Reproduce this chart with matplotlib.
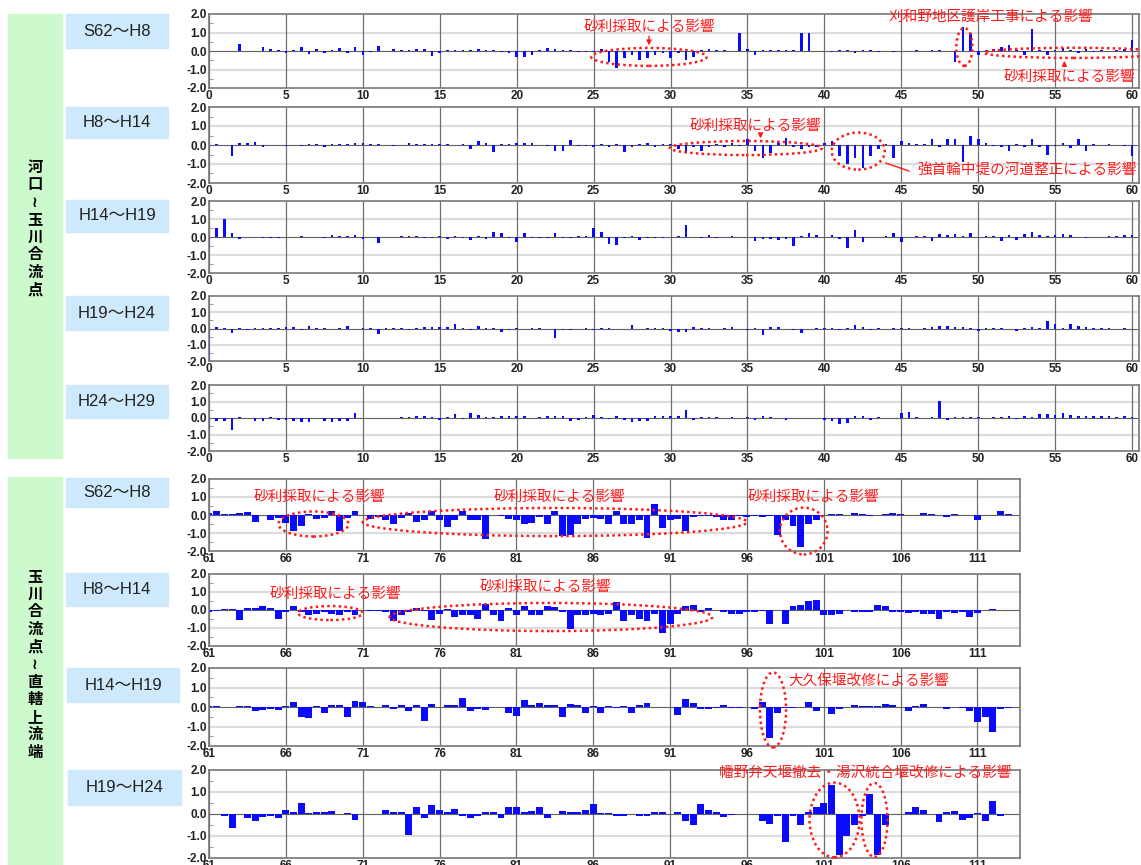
import numpy as np
import matplotlib.pyplot as plt
from matplotlib.patches import Ellipse, Rectangle

plt.rcParams['font.family'] = ['Liberation Sans', 'Noto Sans CJK JP', 'DejaVu Sans']
plt.rcParams['axes.unicode_minus'] = False

# 河口～玉川合流点 : km 0.0 - 60.0, every 0.5 km (平均河床高の変化量 m)
up_s62_h8 = [0, 0, 0, 0, 0.4, 0, 0, 0.2, 0.1, 0.03,
             -0.1, 0.05, 0.2, -0.15, 0.1, -0.1, 0.05, 0.15, -0.1, 0.2,
             -0.2, -0.05, 0.25, 0.02, 0.1, 0.03, 0.05, 0.1, 0.1, -0.25,
             -0.1, 0.05, 0.03, 0.03, 0.05, 0.1, 0.05, 0.03, -0.05, -0.1,
             -0.3, -0.3, -0.2, 0.05, 0.15, 0.1, 0.03, 0.05, -0.05, -0.05,
             -0.05, 0.1, -0.6, -0.9, -0.4, -0.2, -0.5, -0.4, -0.2, -0.1,
             -0.4, -0.1, -0.5, -0.3, 0.05, 0.1, 0.05, 0.05, 0.02, 1.0,
             0.1, -0.2, 0.05, 0.03, 0.05, 0.03, 0.05, 1.0, 1.0, 0.02,
             0.02, -0.05, 0.03, 0.05, -0.1, 0.05, 0.03, -0.05, 0.02, -0.03,
             0.02, 0.02, 0.03, 0.02, 0.05, 0.03, 0.02, -0.6, 1.3, 1.0,
             -0.2, 0.05, 0.1, 0.2, 0.3, 0.05, -0.2, 1.2, 0.05, -0.2,
             0.05, 0.15, 0.05, -0.1, 0.1, -0.05, 0.05, 0.02, 0.05, 0.1,
             0.6]
up_h8_h14 = [-0.3, 0.05, 0.0, -0.6, 0.1, 0.1, 0.15, -0.1, 0.0, 0.0,
             -0.05, 0.02, -0.05, 0.05, 0.05, -0.1, 0.05, 0.03, 0.05, 0.1,
             0.1, 0.03, 0.03, 0.0, -0.05, 0.02, 0.1, 0.05, 0.05, 0.05,
             0.05, 0.03, 0.02, 0.05, -0.2, 0.2, 0.1, -0.35, 0.05, 0.05,
             0.1, 0.1, 0.1, 0.02, -0.05, -0.3, -0.3, 0.25, -0.05, -0.05,
             -0.1, 0.05, -0.1, 0.05, -0.35, -0.1, 0.05, 0.1, -0.1, 0.05,
             0.05, -0.2, -0.4, -0.1, -0.3, -0.1, 0.05, -0.1, 0.1, -0.05,
             0.3, -0.3, -0.7, -0.4, 0.1, 0.35, -0.1, -0.2, -0.1, -0.1,
             0.1, 0.2, -0.6, -1.0, -0.7, -1.2, -0.6, -0.2, 0.05, -0.7,
             0.2, 0.1, 0.05, 0.05, 0.3, -0.1, 0.3, 0.3, -0.9, 0.5,
             0.3, 0.1, -0.05, -0.1, -0.3, 0.05, -0.1, 0.3, -0.1, -0.55,
             -0.05, 0.1, -0.15, 0.3, -0.3, 0.05, 0.02, 0.05, 0.02, -0.05,
             -0.6]
up_h14_h19 = [-0.55, 0.5, 1.0, 0.25, -0.1, 0.0, 0.02, -0.05, -0.05, -0.05,
              0.02, 0.02, 0.05, 0.02, -0.02, -0.03, 0.1, 0.05, 0.03, 0.1,
              -0.1, 0.02, -0.35, 0.02, 0.02, 0.05, 0.05, 0.05, -0.05, -0.03,
              0.05, -0.1, 0.05, -0.08, -0.15, 0.05, -0.1, 0.28, 0.2, -0.05,
              -0.25, 0.2, -0.05, -0.03, -0.03, 0.2, -0.05, -0.05, 0.05, 0.05,
              0.5, 0.3, -0.4, -0.45, -0.05, 0.05, -0.15, -0.05, -0.05, -0.05,
              0.02, 0.05, 0.65, 0.02, -0.05, 0.1, -0.05, 0.02, 0.05, 0.02,
              0.02, -0.2, -0.1, -0.1, -0.15, -0.1, -0.5, 0.05, 0.2, 0.1,
              0.02, 0.1, -0.1, -0.6, 0.4, -0.3, 0.02, 0.02, 0.05, 0.25,
              -0.3, 0.02, 0.05, 0.05, -0.2, 0.15, 0.1, 0.15, 0.05, 0.25,
              0.02, 0.05, 0.05, -0.2, 0.1, -0.15, 0.15, 0.3, 0.1, 0.05,
              0.1, 0.15, 0.1, 0.02, -0.05, 0.02, 0.02, 0.05, 0.05, 0.1,
              0.1]
up_h19_h24 = [-2.0, 0.1, 0.02, -0.3, 0.03, -0.1, 0.02, 0.02, 0.03, 0.02,
              0.1, 0.1, -0.1, 0.15, 0.05, 0.02, -0.05, 0.03, 0.15, -0.05,
              0.02, 0.05, -0.35, 0.05, 0.03, 0.02, -0.1, 0.05, 0.1, 0.1,
              0.1, 0.1, 0.3, 0.05, -0.1, 0.15, 0.05, 0.05, -0.2, -0.1,
              0.05, -0.05, 0.05, 0.02, -0.05, -0.6, -0.1, -0.1, -0.05, 0.05,
              -0.1, 0.02, 0.05, -0.05, -0.05, 0.2, -0.05, 0.02, 0.02, 0.02,
              -0.15, -0.2, -0.2, 0.1, 0.05, 0.02, -0.02, 0.02, 0.1, -0.05,
              -0.1, 0.05, -0.4, 0.1, 0.1, -0.05, -0.1, -0.3, -0.05, 0.02,
              0.03, 0.02, -0.1, 0.05, 0.2, 0.1, -0.1, 0.02, -0.02, 0.05,
              0.05, 0.02, -0.05, 0.02, 0.1, 0.15, 0.15, 0.1, 0.1, 0.05,
              -0.15, 0.05, 0.02, 0.05, -0.05, -0.15, 0.05, 0.1, 0.05, 0.45,
              0.3, 0.02, 0.3, 0.15, 0.1, 0.02, 0.02, 0.02, -0.02, 0.02,
              -0.05]
up_h24_h29 = [-0.7, -0.2, -0.2, -0.7, 0.05, 0.02, -0.2, -0.2, 0.05, -0.15,
              -0.15, -0.2, -0.25, -0.25, 0.02, -0.2, -0.25, -0.2, -0.2, 0.3,
              0.02, 0.02, 0.02, 0.02, 0.02, 0.05, 0.05, 0.1, 0.1, 0.05,
              -0.1, 0.05, 0.25, -0.05, 0.3, 0.2, 0.05, 0.05, 0.1, 0.1,
              0.15, 0.1, 0.02, 0.05, 0.1, 0.1, 0.1, -0.2, -0.15, 0.05,
              0.2, 0.05, -0.05, 0.15, -0.1, -0.25, -0.2, -0.2, 0.1, 0.1,
              0.15, 0.15, 0.5, -0.15, 0.05, 0.05, 0.05, 0.03, 0.05, 0.02,
              0.05, -0.15, 0.15, 0.05, 0.02, -0.15, 0.02, 0.02, 0.02, 0.02,
              -0.1, -0.2, -0.35, -0.3, 0.1, 0.15, -0.1, 0.05, 0.02, 0.02,
              0.3, 0.35, 0.05, 0.02, 0.05, 1.05, -0.1, 0.05, 0.05, 0.05,
              0.05, 0.02, 0.05, 0.05, 0.1, -0.05, 0.1, 0.05, 0.25, 0.25,
              0.2, 0.3, 0.2, 0.15, 0.1, 0.1, 0.15, 0.15, 0.05, 0.1,
              0.05]

# 玉川合流点～直轄上流端 : km 61.0 - 113.5, every 0.5 km
lo_s62_h8 = [0.1, 0.2, 0.03, 0.03, 0.1, 0.15, -0.4, 0.02, -0.25, -0.15,
             -0.45, -0.9, -0.6, 0.05, -0.2, -0.15, 0.2, -0.9, -0.15, 0.2,
             0.02, -0.2, -0.1, -0.3, -0.5, -0.15, 0.1, -0.4, -0.3, 0.25,
             -0.3, -0.65, -0.3, 0.2, -0.3, -0.25, -1.35, 0.02, -0.05, -0.2,
             -0.3, -0.5, -0.45, -0.1, -0.5, 0.2, -1.15, -1.1, -0.5, -0.2,
             -0.15, -0.2, -0.5, 0.2, -0.5, -0.5, -0.3, -1.3, 0.6, -0.7,
             -0.3, -0.2, -0.9, -0.1, -0.05, -0.05, -0.1, -0.3, -0.25, -0.05,
             -0.1, -0.05, -0.1, -0.05, -1.1, -0.3, -0.6, -1.8, -0.5, -0.3,
             0.02, 0.05, 0.05, 0.02, 0.1, 0.05, -0.05, 0.02, 0.05, 0.1,
             0.05, 0.02, 0.02, 0.1, 0.05, 0.02, -0.1, 0.05, 0.02, 0.02,
             -0.3, 0.02, 0.02, 0.25, 0.05, 0.02]
lo_h8_h14 = [-0.1, -0.05, 0.05, 0.05, -0.55, 0.1, 0.1, 0.25, 0.1, -0.5,
             -0.1, 0.2, -0.1, -0.3, -0.2, -0.1, -0.2, -0.3, -0.1, -0.25,
             0.02, -0.05, -0.05, -0.1, -0.6, -0.3, -0.1, 0.1, -0.05, -0.55,
             -0.2, 0.05, -0.4, -0.3, -0.3, -0.5, 0.35, -0.3, -0.6, 0.1,
             -0.3, 0.2, -0.3, -0.3, 0.2, 0.15, -0.1, -1.05, -0.3, -0.3,
             -0.2, -0.3, -0.2, 0.45, -0.6, -0.3, -0.5, -0.6, -0.2, -1.25,
             -0.8, -0.2, 0.2, 0.3, -0.1, 0.1, 0.02, -0.1, -0.2, -0.2,
             -0.1, -0.1, -0.05, -0.75, 0.02, -0.8, 0.25, 0.3, 0.5, 0.55,
             -0.3, -0.3, -0.2, 0.02, -0.1, -0.1, -0.1, 0.3, 0.25, -0.1,
             -0.1, -0.15, -0.1, -0.2, -0.2, -0.5, -0.1, -0.15, -0.1, -0.4,
             -0.15, 0.02, 0.05, 0.02, 0.02, 0.02]
lo_h14_h19 = [0.05, 0.05, 0.02, 0.02, 0.05, 0.05, -0.2, -0.15, -0.1, -0.15,
              0.05, 0.25, -0.5, -0.55, 0.05, -0.3, 0.1, 0.1, -0.5, 0.3,
              0.25, 0.05, 0.02, 0.1, -0.1, 0.1, -0.2, 0.1, -0.7, 0.15,
              0.02, 0.1, 0.1, 0.45, -0.2, -0.1, -0.15, 0.02, 0.02, -0.3,
              -0.45, 0.35, 0.1, 0.2, 0.1, 0.1, -0.5, 0.15, 0.1, -0.3,
              0.05, -0.3, 0.05, -0.05, 0.05, -0.3, 0.1, 0.2, 0.02, 0.02,
              0.02, -0.4, 0.4, 0.2, -0.1, -0.1, -0.05, 0.1, -0.05, -0.05,
              0.02, -0.1, 0.25, -1.6, -0.3, -0.05, -0.05, 0.02, 0.25, -0.2,
              0.02, -0.35, -0.1, 0.02, 0.1, 0.05, 0.05, 0.05, 0.15, 0.1,
              0.02, -0.2, 0.05, 0.15, 0.02, 0.02, -0.1, 0.02, -0.05, -0.2,
              -0.75, -0.5, -1.3, -0.1, -0.05, 0.02]
lo_h19_h24 = [0.02, 0.02, -0.1, -0.65, 0.02, -0.2, -0.3, -0.15, -0.1, -0.2,
              0.2, 0.1, 0.5, 0.05, 0.1, 0.1, 0.15, 0.02, 0.05, -0.25,
              0.02, 0.02, 0.02, 0.2, 0.1, 0.1, -0.95, 0.3, -0.2, 0.4,
              0.2, 0.1, 0.25, -0.1, -0.2, -0.1, 0.1, 0.1, -0.2, 0.3,
              0.3, 0.1, 0.15, 0.3, -0.2, 0.02, 0.15, 0.1, 0.1, 0.2,
              0.45, 0.05, 0.05, -0.1, -0.1, 0.02, -0.1, -0.1, 0.1, 0.1,
              0.02, 0.1, -0.3, -0.5, 0.45, 0.2, 0.1, -0.15, -0.05, 0.02,
              0.02, 0.02, -0.3, -0.45, -0.1, -1.25, -0.1, -0.5, 0.1, 0.3,
              0.5, 1.3, -1.85, -1.0, -0.5, -0.1, 0.9, -1.85, -0.5, 0.02,
              0.02, 0.1, 0.3, 0.2, 0.02, -0.35, 0.1, 0.15, -0.25, -0.2,
              0.05, -0.3, 0.6, -0.1, 0.02, 0.02]

up_periods = ['S62～H8', 'H8～H14', 'H14～H19', 'H19～H24', 'H24～H29']
lo_periods = ['S62～H8', 'H8～H14', 'H14～H19', 'H19～H24']
up_series = [up_s62_h8, up_h8_h14, up_h14_h19, up_h19_h24, up_h24_h29]
lo_series = [lo_s62_h8, lo_h8_h14, lo_h14_h19, lo_h19_h24]

W, H = 1141, 865
fig = plt.figure(figsize=(W / 100, H / 100), dpi=100)
RED = '#ff1a1a'


def px_rect(l, t, r, b):
    return [l / W, 1 - b / H, (r - l) / W, (b - t) / H]


def panel(rect, km, dz, width, xlim, xticks):
    ax = fig.add_axes(px_rect(*rect))
    ax.set_xlim(*xlim)
    ax.set_ylim(-2, 2)
    ax.axhline(1, color='#dcdcdc', lw=1.6, zorder=0)
    ax.axhline(-1, color='#dcdcdc', lw=1.6, zorder=0)
    for t in xticks:
        ax.axvline(t, color='#707070', lw=0.9, zorder=1)
    ax.axhline(0, color='#606060', lw=0.8, zorder=1)
    ax.bar(km, dz, width=width, color='#0a0aff', lw=0, zorder=2)
    ax.set_xticks(xticks)
    ax.set_yticks([-2, -1, 0, 1, 2])
    ax.set_yticks([-1.5, -0.5, 0.5, 1.5], minor=True)
    ax.yaxis.set_major_formatter('{x:.1f}')
    ax.tick_params(axis='both', which='major', labelsize=8.5, length=0, pad=1.5,
                   labelcolor='#222222')
    ax.tick_params(axis='y', which='minor', length=3, direction='in', color='#888888')
    for lab in ax.get_xticklabels() + ax.get_yticklabels():
        lab.set_fontweight('bold')
    for s in ax.spines.values():
        s.set_color('#777777')
        s.set_linewidth(1.2)
    return ax


def oval(ax, cx, cy, w, h):
    ax.add_patch(Ellipse((cx, cy), w, h, fill=False, ec=RED, lw=1.8,
                         ls=(0, (1, 1.3)), clip_on=False, zorder=5))


def note(ax, x, y, s):
    ax.text(x, y, s, color=RED, fontsize=10.5, ha='center', va='center',
            clip_on=False, zorder=6)


def arrow(ax, x, y0, y1):
    ax.annotate('', xy=(x, y1), xytext=(x, y0),
                arrowprops=dict(arrowstyle='-|>', color=RED, lw=1, mutation_scale=7),
                annotation_clip=False, zorder=6)


# background group boxes
fig.add_artist(Rectangle((8 / W, 1 - 458 / H), 54 / W, 444 / H, transform=fig.transFigure,
                         color='#ccfacc', zorder=0))
fig.add_artist(Rectangle((8 / W, 0), 54 / W, (H - 477) / H, transform=fig.transFigure,
                         color='#ccfacc', zorder=0))
fig.text(35 / W, 1 - 228 / H, '河\n口\n≀\n玉\n川\n合\n流\n点', ha='center', va='center',
         fontsize=11, fontweight='bold', linespacing=1.12,
         family=['Noto Sans CJK JP', 'DejaVu Sans'])
fig.text(35 / W, 1 - 664 / H, '玉\n川\n合\n流\n点\n≀\n直\n轄\n上\n流\n端', ha='center',
         va='center', fontsize=11, fontweight='bold', linespacing=1.12,
         family=['Noto Sans CJK JP', 'DejaVu Sans'])

up_boxes = [(14, 48, 66, 168), (107, 138, 66, 168), (200, 232, 66, 168),
            (296, 330, 66, 168), (385, 418, 66, 168)]
lo_boxes = [(478, 507, 66, 168), (573, 606, 66, 168), (668, 702, 67, 179),
            (770, 805, 68, 181)]
for (t, b, l, r), lab in zip(up_boxes + lo_boxes, up_periods + lo_periods):
    fig.add_artist(Rectangle((l / W, 1 - b / H), (r - l) / W, (b - t) / H,
                             transform=fig.transFigure, color='#cde9fb', zorder=0))
    fig.text((l + r) / 2 / W, 1 - (t + b) / 2 / H, lab, ha='center', va='center',
             fontsize=12, color='#222222')

up_rects = [(209, 14, 1139, 88), (209, 107, 1139, 183), (209, 201, 1139, 273),
            (209, 296, 1139, 361), (209, 385, 1139, 451)]
lo_rects = [(209, 479, 1020, 551), (209, 574, 1020, 646), (209, 668, 1020, 746),
            (209, 770, 1020, 858)]

up_axes = []
for rect, dz in zip(up_rects, up_series):
    km = np.arange(len(dz)) * 0.5
    up_axes.append(panel(rect, km, dz, 0.17, (0, 60.45), list(range(0, 61, 5))))
lo_axes = []
for rect, dz in zip(lo_rects, lo_series):
    km = 61 + np.arange(len(dz)) * 0.5
    lo_axes.append(panel(rect, km, dz, 0.45, (61, 113.77), list(range(61, 112, 5))))

# annotations, upper reach
a = up_axes[0]
note(a, 28.6, 1.3, '砂利採取による影響')
arrow(a, 28.6, 0.95, 0.15)
oval(a, 28.6, -0.32, 7.5, 0.97)
note(a, 50.8, 1.84, '刈和野地区護岸工事による影響')
oval(a, 49.1, 0.22, 1.05, 2.05)
oval(a, 56.2, -0.1, 11.6, 0.55)
note(a, 55.95, -1.4, '砂利採取による影響')
arrow(a, 55.6, -0.95, -0.38)

a = up_axes[1]
note(a, 35.5, 1.0, '砂利採取による影響')
arrow(a, 35.85, 0.74, 0.2)
oval(a, 34.9, -0.16, 9.9, 0.74)
oval(a, 42.2, -0.32, 3.45, 1.95)
a.plot([44.0, 45.5], [-0.95, -1.37], color=RED, lw=1, clip_on=False, zorder=6)
note(a, 53.2, -1.37, '強首輪中堤の河道整正による影響')

# annotations, lower reach
a = lo_axes[0]
note(a, 68.2, 1.0, '砂利採取による影響')
note(a, 83.8, 1.0, '砂利採取による影響')
note(a, 100.3, 1.0, '砂利採取による影響')
oval(a, 67.8, -0.5, 4.55, 1.39)
oval(a, 83.5, -0.39, 25.0, 1.56)
oval(a, 99.7, -0.89, 3.1, 2.6)

a = lo_axes[1]
note(a, 69.2, 0.89, '砂利採取による影響')
note(a, 82.9, 1.28, '砂利採取による影響')
oval(a, 68.9, -0.17, 4.2, 0.78)
oval(a, 83.25, -0.39, 21.0, 1.56)

a = lo_axes[2]
note(a, 103.9, 1.33, '大久保堰改修による影響')
oval(a, 97.7, -0.15, 1.7, 3.85)

a = lo_axes[3]
note(a, 103.7, 1.86, '幡野弁天堰撤去・湯沢統合堰改修による影響')
oval(a, 101.7, -0.27, 3.25, 3.4)
oval(a, 104.3, -0.27, 1.7, 3.36)

fig.savefig('out.png', dpi=100)
